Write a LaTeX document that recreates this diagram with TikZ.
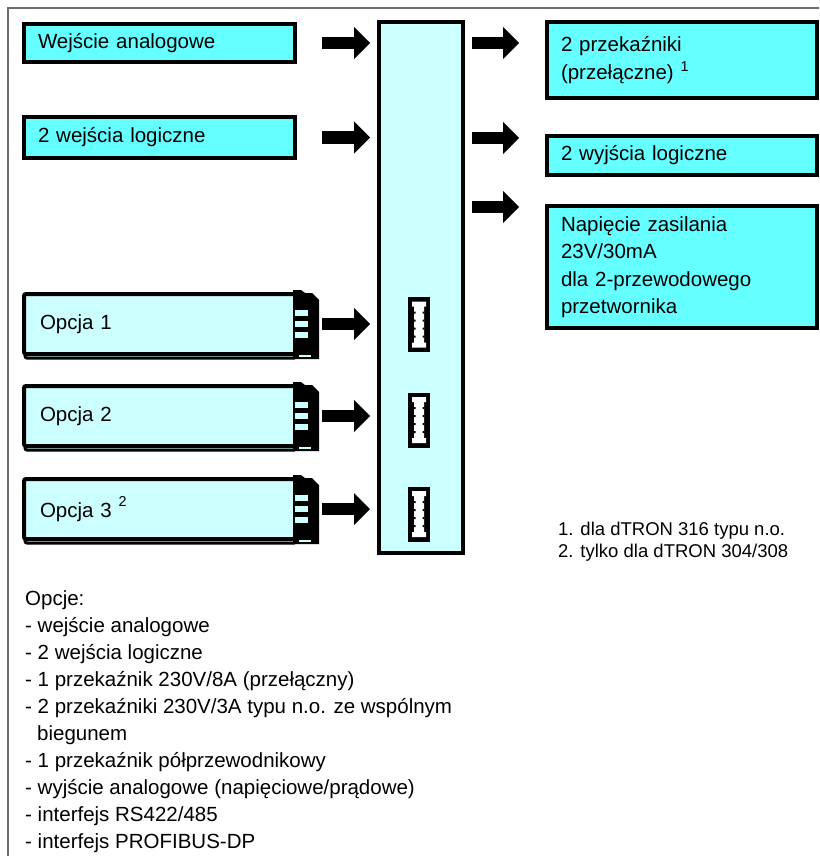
\documentclass[tikz,border=0pt]{standalone}
\usepackage{fontspec}
\setmainfont{Liberation Sans}
\usetikzlibrary{arrows.meta}
\usetikzlibrary{positioning}
\definecolor{boxcyan}{RGB}{102,255,255}
\definecolor{palecyan}{RGB}{204,255,255}
\definecolor{framegray}{RGB}{110,110,110}
\tikzset{
  cardbody/.style = {
    draw, line width = 4pt, fill = palecyan, rounded corners = 2pt,
    anchor = north west, minimum width = 271pt, minimum height = 60pt,
    inner xsep = 16pt, inner ysep = 0pt, text width = 239pt, align = left,
  },
  pics/card/.style args = {#1/#2}{
    code = {
      % card behind, only its lower edge shows
      \draw[line width = 3pt, fill = palecyan, rounded corners = 2pt]
        (3,6) rectangle (274,66);
      % front card
      \node[cardbody] (#1) at (0,0) {#2};
      % edge connector
      \fill[black] (271,-2) -- (279,-2) -- (283,1) -- (290,1) -- (297,8)
        -- (297,67) -- (271,67) -- cycle;
      \foreach \y in {18,29,40}
        \fill[palecyan] (273,\y) rectangle (286,\y+6);
      \fill[palecyan] (277,63) rectangle (289,64.5);
    },
  },
  pics/slot/.style = {
    code = {
      \fill[black] (-11,-27.5) rectangle (11,27.5);
      \fill[white] (-7,-23) rectangle (7,-18)
        (-5,-18) rectangle (5,18) (-7,18) rectangle (7,23);
      \foreach \y in {-12,-4,4,12}
        \fill[black] (-5,\y-1) rectangle (-3.5,\y+1)
          (3.5,\y-1) rectangle (5,\y+1);
    },
  },
}

\begin{document}
\begin{tikzpicture}[
    x = 1pt, y = -1pt,
    every node/.style = {font = \fontsize{20.5}{27.5}\selectfont},
    iobox/.style = {
      draw, line width = 4pt, fill = boxcyan, anchor = north west,
      inner xsep = 14pt, inner ysep = 0pt, align = left,
    },
    bigarrow/.style = {
      line width = 12pt,
      -{Triangle[length = 16pt, width = 32pt, line width = 0pt]},
    },
    note/.style = {anchor = base west, inner sep = 0pt},
  ]
  \useasboundingbox (0,0) rectangle (819,856);
  \draw[framegray, line width = 1.5pt] (8,856) -- (8,8) -- (819,8);

  % central unit
  \node[draw, line width = 4pt, fill = palecyan, anchor = north west,
        minimum width = 84pt, minimum height = 531pt] (bar) at (377,20) {};

  % inputs
  \node[iobox, text width = 243pt, minimum height = 38pt] (in1) at (22,22)
    {Wejście analogowe};
  \node[iobox, text width = 243pt, minimum height = 41pt] (in2) at (22,115)
    {2 wejścia logiczne};

  % outputs
  \node[iobox, text width = 242pt, minimum height = 76pt] (out1) at (545,20)
    {2 przekaźniki\\(przełączne) \textsuperscript{1}};
  \node[iobox, text width = 242pt, minimum height = 39pt] (out2) at (545,134)
    {2 wyjścia logiczne};
  \node[iobox, text width = 242pt, minimum height = 122pt] (out3) at (545,204)
    {Napięcie zasilania\\23V/30mA\\dla 2-przewodowego\\przetwornika};

  % option cards and their slots
  \pic at (22,292) {card=opt1/Opcja 1};
  \pic at (22,384) {card=opt2/Opcja 2};
  \pic at (22,477) {card=opt3/Opcja 3 \raisebox{3pt}{\textsuperscript{2}}};
  \pic at (419,324.5) {slot};
  \pic at (419,420) {slot};
  \pic at (419,514) {slot};

  % arrows
  \foreach \n in {in1,in2,opt1,opt2,opt3}
    \draw[bigarrow, shorten <= 25pt, shorten >= 7pt]
      (\n.east) -- (\n.east -| bar.west);
  \coordinate (r1) at (0,43);
  \coordinate (r2) at (0,138);
  \coordinate (r3) at (0,207);
  \foreach \r/\n in {r1/out1,r2/out2,r3/out3}
    \draw[bigarrow, shorten <= 7pt, shorten >= 26pt]
      (bar.east |- \r) -- (\n.west |- \r);

  % footnotes
  \node[note, font = \fontsize{18.5}{22}\selectfont] (fn1) at (558,535)
    {1. dla dTRON 316 typu n.o.};
  \node[note, font = \fontsize{18.5}{22}\selectfont] (fn2) at (558,557)
    {2. tylko dla dTRON 304/308};

  % list of options
  \foreach \txt [count=\i from 0] in {
      Opcje:,
      - wejście analogowe,
      - 2 wejścia logiczne,
      - 1 przekaźnik 230V/8A (przełączny),
      - 2 przekaźniki 230V/3A typu n.o. ze wspólnym,
      \hspace*{12pt}biegunem,
      - 1 przekaźnik półprzewodnikowy,
      - wyjście analogowe (napięciowe/prądowe),
      - interfejs RS422/485,
      - interfejs PROFIBUS-DP}
    \node[note] (list\i) at (25,605+27*\i) {\txt};
\end{tikzpicture}
\end{document}
